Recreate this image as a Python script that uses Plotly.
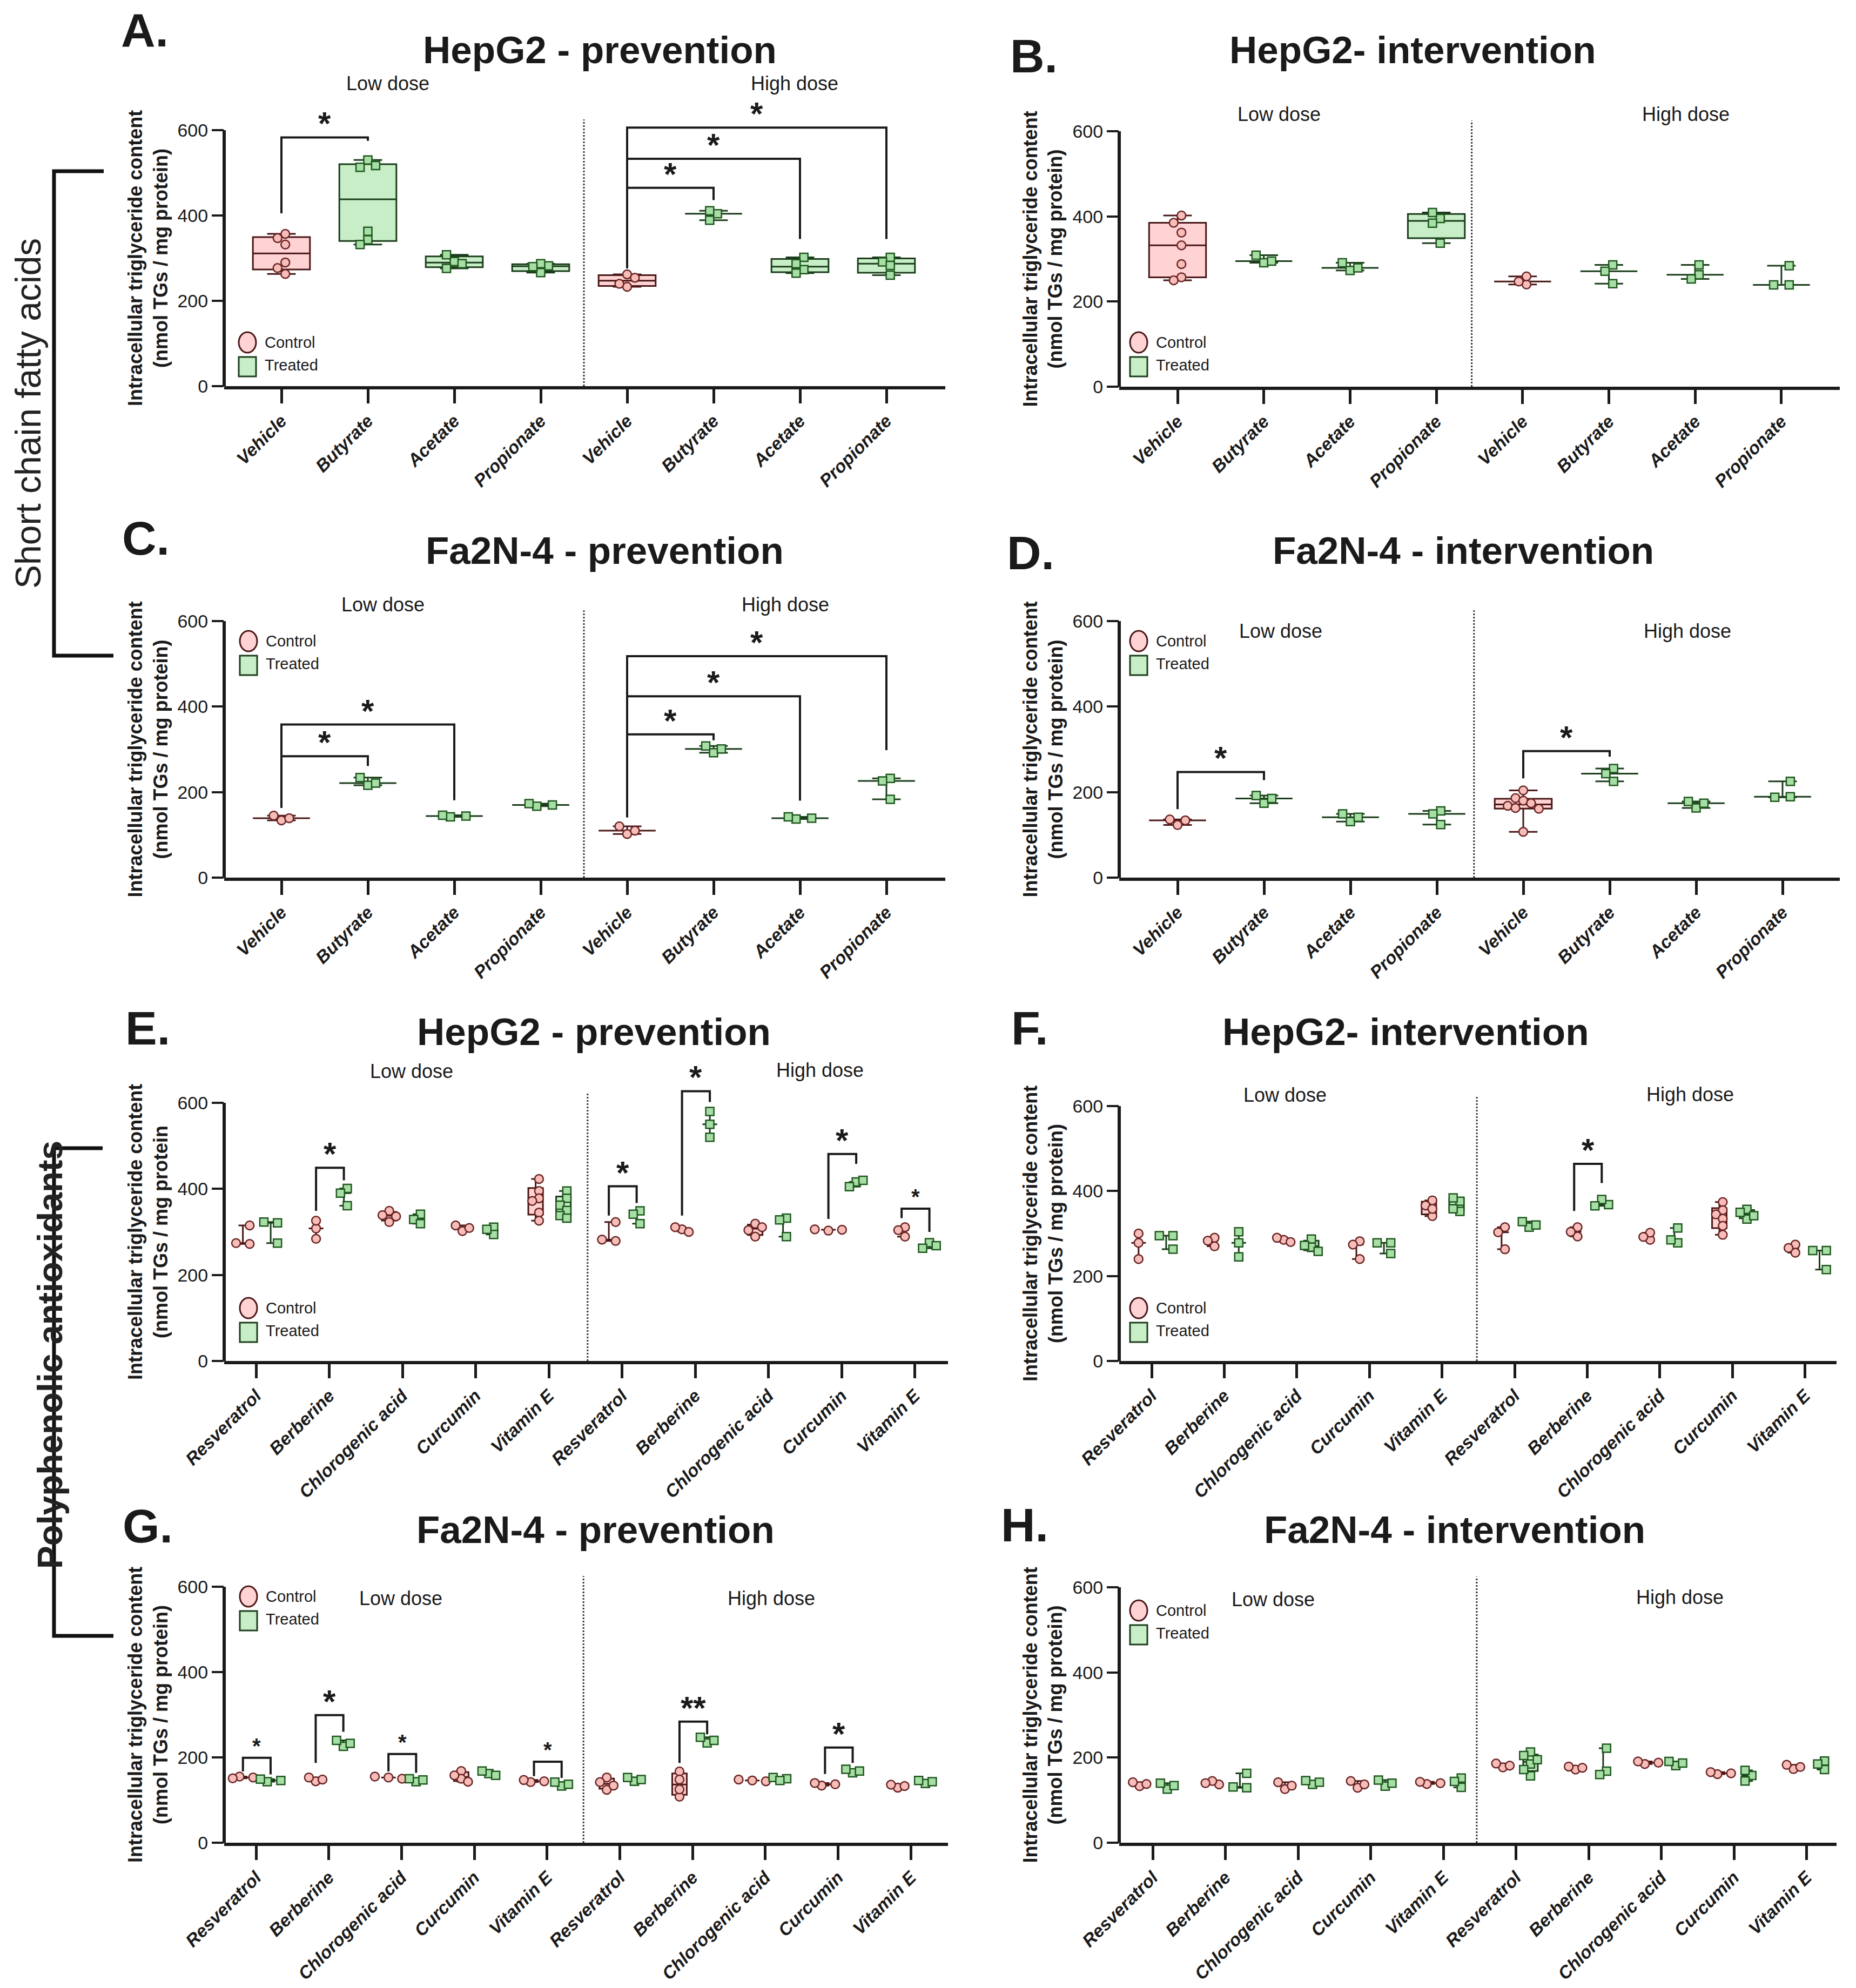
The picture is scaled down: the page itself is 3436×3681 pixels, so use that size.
import numpy as np
import plotly.graph_objects as go

W, H = 3436, 3681
FONT = "Liberation Sans, Arial, Helvetica, sans-serif"
INK = "#1a1a1a"

# ---------------- categories ----------------
SCFA = ["Vehicle", "Butyrate", "Acetate", "Propionate"]
POLY = ["Resveratrol", "Berberine", "Chlorogenic acid", "Curcumin", "Vitamin E"]

# ---------------- data (nmol TGs / mg protein) ----------------
# SCFA panels: one group per compound, "Vehicle" is the control group
A_low = [[357, 347, 332, 290, 277, 263], [530, 513, 517, 363, 343, 332], [292, 308, 276, 287], [282, 287, 266, 280]]
A_high = [[262, 233, 240, 254], [404, 389, 411], [302, 273, 265, 287], [302, 291, 283, 260]]
B_low = [[402, 385, 362, 332, 288, 257, 250], [291, 309, 295], [273, 291, 279], [395, 409, 384, 337]]
B_high = [[240, 259, 247], [286, 271, 242], [286, 263, 253], [284, 239, 239]]
C_low = [[134, 145, 139], [216, 234, 221], [142, 146, 144], [167, 173, 170]]
C_high = [[102, 120, 110], [292, 308, 301], [137, 142, 139], [232, 183, 226]]
D_low = [[123, 136, 134], [174, 192, 185], [131, 149, 141], [156, 124, 149]]
D_high = [[204, 186, 180, 174, 168, 163, 161, 107], [255, 225, 243], [163, 178, 174], [189, 225, 188]]

# Polyphenol panels: control / treated per compound
E_low_ctrl = [[272, 315, 274], [308, 326, 284], [349, 339, 336, 323], [302, 315, 309], [423, 395, 378, 372, 345, 326]]
E_low_trt = [[321, 323, 274], [401, 361, 390], [341, 329, 319], [311, 294, 306], [395, 378, 362, 350, 338, 332]]
E_high_ctrl = [[279, 323, 282], [306, 311, 300], [289, 319, 304, 311], [303, 306, 305], [311, 289, 304]]
E_high_trt = [[349, 319, 341], [580, 550, 520], [332, 289, 328], [416, 405, 420], [275, 262, 268]]

F_low_ctrl = [[300, 278, 240], [270, 290, 283], [285, 290, 280], [282, 240, 274], [378, 341, 366, 358]]
F_low_trt = [[295, 263, 295], [304, 278, 245], [287, 268, 272, 258], [278, 253, 278], [376, 352, 384, 358]]
F_high_ctrl = [[315, 263, 303], [293, 315, 304], [285, 302, 292], [374, 355, 345, 335, 318, 297], [274, 255, 266]]
F_high_trt = [[315, 328, 320], [368, 380, 365], [278, 313, 285], [357, 334, 350, 342], [260, 215, 260]]

G_low_ctrl = [[155, 151, 153], [144, 153, 148], [153, 155, 150], [168, 150, 158, 143], [142, 147, 144]]
G_low_trt = [[143, 149, 146], [226, 240, 233], [143, 150, 147], [162, 168, 158], [133, 142, 137]]
G_high_ctrl = [[153, 124, 142, 134], [167, 108, 148, 125], [146, 148, 144], [134, 140, 137], [129, 136, 133]]
G_high_trt = [[144, 153, 148], [234, 247, 240], [150, 153, 146], [164, 172, 168], [139, 146, 143]]

H_low_ctrl = [[133, 142, 138], [137, 145, 140], [126, 142, 134], [129, 145, 137], [138, 143, 140]]
H_low_trt = [[126, 140, 134], [129, 163, 131], [137, 146, 142], [133, 147, 140], [130, 152, 144]]
H_high_ctrl = [[177, 186, 181], [172, 179, 176], [185, 191, 188], [161, 166, 163], [173, 183, 178]]
H_high_trt = [[213, 157, 205, 185, 195, 172], [168, 222, 160], [181, 191, 187], [158, 145, 170], [172, 192, 185]]

# significance brackets
# SCFA: (group_from, group_to, top, left_leg_end, right_leg_end, label, small)
A_sig = [(0, 1, 583, 405, 575, "*", False), (4, 5, 465, 276, 436, "*", False),
         (4, 6, 533, 276, 345, "*", False), (4, 7, 606, 276, 345, "*", False)]
B_sig = []
C_sig = [(0, 1, 284, 163, 261, "*", False), (0, 2, 358, 163, 181, "*", False),
         (4, 5, 335, 141, 321, "*", False), (4, 6, 424, 141, 180, "*", False),
         (4, 7, 518, 141, 298, "*", False)]
D_sig = [(0, 1, 247, 160, 228, "*", False), (4, 5, 296, 232, 283, "*", False)]
# Polyphenols: (compound index 0-9, top, control_leg_end, treated_leg_end, label, small)
E_sig = [(1, 449, 349, 420, "*", False), (5, 406, 338, 367, "*", False), (6, 627, 338, 602, "*", False),
         (8, 481, 330, 458, "*", False), (9, 354, 332, 300, "*", True)]
F_sig = [(6, 464, 353, 419, "*", False)]
G_sig = [(0, 199, 167, 160, "*", True), (1, 299, 187, 260, "*", False), (2, 208, 167, 164, "*", True),
         (4, 190, 156, 152, "*", True), (6, 284, 187, 254, "**", False), (8, 223, 161, 187, "*", False)]
H_sig = []

TITLES = {"A": "HepG2 - prevention", "B": "HepG2- intervention", "C": "Fa2N-4 - prevention",
          "D": "Fa2N-4 - intervention", "E": "HepG2 - prevention", "F": "HepG2- intervention",
          "G": "Fa2N-4 - prevention", "H": "Fa2N-4 - intervention"}
YTITLE = "Intracellular triglyceride content<br>(nmol TGs / mg protein)"
YTITLE_E = "Intracellular triglyceride content<br>(nmol TGs / mg protein"

# ---------------- layout geometry (pixels) ----------------
# axis_left, axis_right, first_tick_x, tick_step, y_of_0, y_of_600, divider position (category units)
GEOM = {
    "A": (415, 1750, 521, 160.0, 715, 241, 3.5),
    "B": (2072, 3406, 2180, 159.7, 716, 243, 3.41),
    "C": (415, 1750, 521, 160.0, 1625, 1150, 3.5),
    "D": (2072, 3406, 2180, 160.0, 1625, 1150, 3.43),
    "E": (415, 1755, 474, 135.5, 2520, 2042, 4.53),
    "F": (2072, 3400, 2132, 134.4, 2520, 2048, 4.48),
    "G": (415, 1755, 474, 134.7, 3412, 2938, 4.5),
    "H": (2072, 3400, 2134, 134.5, 3412, 2939, 4.46),
}
TITLE_POS = {"A": (1110, 93), "B": (2615, 93), "C": (1119, 1020), "D": (2709, 1020),
             "E": (1099, 1910), "F": (2602, 1910), "G": (1102, 2832), "H": (2693, 2832)}
LETTER_POS = {"A": (268, 55), "B": (1914, 103), "C": (270, 996), "D": (1908, 1023),
              "E": (273, 1903), "F": (1906, 1903), "G": (273, 2825), "H": (1897, 2823)}
DOSE_POS = {"A": ((718, 155), (1471, 155)), "B": ((2368, 211), (3121, 211)),
            "C": ((709, 1119), (1454, 1119)), "D": ((2371, 1168), (3124, 1168)),
            "E": ((762, 1983), (1518, 1981)), "F": ((2379, 2027), (3129, 2026)),
            "G": ((742, 2959), (1428, 2959)), "H": ((2357, 2961), (3110, 2957))}
LEG_POS = {"A": (458, 634), "B": (2108, 634), "C": (460, 1187), "D": (2108, 1187),
           "E": (460, 2422), "F": (2108, 2422), "G": (460, 2956), "H": (2108, 2982)}

CTRL_FILL, CTRL_LINE, CTRL_PT = "#FFD3D3", "#4a1616", "#F7BDB9"
TRT_FILL, TRT_LINE, TRT_PT = "#C8EEC8", "#1b3d1b", "#A6DEA6"
CTRL_PT_LINE, TRT_PT_LINE = "#6a2323", "#1e571e"


def quart(v):
    v = np.asarray(v, float)
    med = float(np.median(v))
    if len(v) >= 4:
        q1, q3 = np.quantile(v, [0.25, 0.75], method="weibull")
    else:  # groups of three: median with range
        q1 = q3 = med
    return float(q1), med, float(q3), float(v.min()), float(v.max())


def swarm(values, ppv, ppx, d):
    placed, out = [], []
    steps = [0] + [s * k for k in range(1, 12) for s in (-1, 1)]
    for v in values:
        y = v * ppv
        x = 0.0
        for k in steps:
            x = k * d * 0.9
            if all((x - a) ** 2 + (y - b) ** 2 >= (d * 0.92) ** 2 for a, b in placed):
                break
        placed.append((x, y))
        out.append(x)
    xs = np.array(out)
    xs -= (xs.max() + xs.min()) / 2
    return xs / ppx


def paper(x, y):
    return x / W, 1 - y / H


PANELS = [
    ("A", "scfa", (A_low, A_high), A_sig),
    ("B", "scfa", (B_low, B_high), B_sig),
    ("C", "scfa", (C_low, C_high), C_sig),
    ("D", "scfa", (D_low, D_high), D_sig),
    ("E", "poly", (E_low_ctrl, E_low_trt, E_high_ctrl, E_high_trt), E_sig),
    ("F", "poly", (F_low_ctrl, F_low_trt, F_high_ctrl, F_high_trt), F_sig),
    ("G", "poly", (G_low_ctrl, G_low_trt, G_high_ctrl, G_high_trt), G_sig),
    ("H", "poly", (H_low_ctrl, H_low_trt, H_high_ctrl, H_high_trt), H_sig),
]

fig = go.Figure()
layout = dict(width=W, height=H, margin=dict(l=0, r=0, t=0, b=0, pad=0, autoexpand=False),
              paper_bgcolor="white", plot_bgcolor="rgba(0,0,0,0)", showlegend=False,
              hovermode=False, font=dict(family=FONT, color=INK))
shapes, annots = [], []

for i, (key, kind, data, sig) in enumerate(PANELS, start=1):
    sid = "" if i == 1 else str(i)
    xr, yr = "x" + sid, "y" + sid
    xl, xrt, t0, step, y0, y600, div = GEOM[key]
    ppv = (y0 - y600) / 600.0
    ytop = y0 - 700 * ppv

    # ---- group assembly ----
    ctrl_groups, trt_groups = [], []  # (position, values)
    if kind == "scfa":
        low, high = data
        names = SCFA + SCFA
        for j, vals in enumerate(list(low) + list(high)):
            (ctrl_groups if names[j] == "Vehicle" else trt_groups).append((float(j), vals))
        bw, ww, d = 0.66, 0.5, 16.0
    else:
        lc, lt, hc, ht = data
        names = POLY + POLY
        for j in range(10):
            ctrl_groups.append((j - 0.18, (lc + hc)[j]))
            trt_groups.append((j + 0.20, (lt + ht)[j]))
        bw, ww, d = 0.2, 0.6, 14.0

    for groups, fill, lcol in ((ctrl_groups, CTRL_FILL, CTRL_LINE), (trt_groups, TRT_FILL, TRT_LINE)):
        stats = [quart(v) for _, v in groups]
        fig.add_trace(go.Box(
            x=[p for p, _ in groups], q1=[s[0] for s in stats], median=[s[1] for s in stats],
            q3=[s[2] for s in stats], lowerfence=[s[3] for s in stats], upperfence=[s[4] for s in stats],
            width=bw, whiskerwidth=ww, fillcolor=fill, line=dict(color=lcol, width=3),
            boxpoints=False, xaxis=xr, yaxis=yr, hoverinfo="skip"))
    for groups, ptc, ptl, sym, msz in (
            (ctrl_groups, CTRL_PT, CTRL_PT_LINE, "circle", 16),
            (trt_groups, TRT_PT, TRT_PT_LINE, "square", 15)):
        xs, ys = [], []
        for p, v in groups:
            offs = swarm(v, ppv, step, d)
            xs += list(p + offs)
            ys += list(v)
        fig.add_trace(go.Scatter(
            x=xs, y=ys, mode="markers", cliponaxis=False, xaxis=xr, yaxis=yr, hoverinfo="skip",
            marker=dict(symbol=sym, size=msz, color=ptc, line=dict(color=ptl, width=2.5))))

    # ---- axes ----
    layout["xaxis" + sid] = dict(
        domain=[xl / W, xrt / W], range=[(xl - t0) / step, (xrt - t0) / step], anchor=yr,
        tickmode="array", tickvals=list(range(len(names))), ticktext=names, tickangle=-45,
        ticks="outside", ticklen=26, tickwidth=5, tickcolor=INK, showline=True, linewidth=6,
        linecolor=INK, showgrid=False, zeroline=False, fixedrange=True, automargin=False,
        tickfont=dict(family=FONT, size=33, style="italic", weight="bold", color=INK))
    layout["yaxis" + sid] = dict(
        domain=[1 - y0 / H, 1 - ytop / H], range=[0, 700], anchor=xr, tickmode="array",
        tickvals=[0, 200, 400, 600], ticks="outside", ticklen=22, tickwidth=4, tickcolor=INK,
        showline=False, showgrid=False, zeroline=False, fixedrange=True, automargin=False,
        tickfont=dict(family=FONT, size=34, color=INK))

    # y axis line up to 600
    shapes.append(dict(type="line", xref=xr + " domain", x0=0, x1=0, yref=yr, y0=0, y1=600,
                       line=dict(color=INK, width=6)))
    # dose divider
    shapes.append(dict(type="line", xref=xr, x0=div, x1=div, yref=yr, y0=0, y1=625,
                       line=dict(color="#333333", width=3, dash="dot")))

    # y title
    annots.append(dict(xref=xr + " domain", x=0, xshift=-141, yref=yr, y=300,
                       text=YTITLE_E if key == "E" else YTITLE, textangle=-90, showarrow=False,
                       xanchor="center", yanchor="middle", align="center",
                       font=dict(size=36, weight="bold", color=INK)))

    # significance brackets
    for s in sig:
        if kind == "scfa":
            g1, g2, yt, yl, yrr, lab, small = s
            x1, x2 = float(g1), float(g2)
        else:
            k, yt, yl, yrr, lab, small = s
            x1, x2 = k - 0.18, k + 0.20
        shapes.append(dict(type="path", xref=xr, yref=yr,
                           path=f"M{x1},{yl} L{x1},{yt} L{x2},{yt} L{x2},{yrr}",
                           line=dict(color=INK, width=4)))
        annots.append(dict(xref=xr, yref=yr, x=(x1 + x2) / 2, y=yt, text=lab, showarrow=False,
                           xanchor="center", yanchor="bottom", yshift=-2 if small else -10,
                           font=dict(size=40 if small else 60, weight="bold", color=INK)))

    # titles, panel letters, dose labels
    tx, ty = paper(*TITLE_POS[key])
    annots.append(dict(xref="paper", yref="paper", x=tx, y=ty, text=TITLES[key], showarrow=False,
                       xanchor="center", yanchor="middle", font=dict(size=71, weight="bold", color=INK)))
    lx, ly = paper(*LETTER_POS[key])
    annots.append(dict(xref="paper", yref="paper", x=lx, y=ly, text=key + ".", showarrow=False,
                       xanchor="center", yanchor="middle", font=dict(size=88, weight="bold", color=INK)))
    for (dx, dy), txt in zip(DOSE_POS[key], ("Low dose", "High dose")):
        px_, py_ = paper(dx, dy)
        annots.append(dict(xref="paper", yref="paper", x=px_, y=py_, text=txt, showarrow=False,
                           xanchor="center", yanchor="middle", font=dict(size=36, color=INK)))

    # legend (Control / Treated)
    cx, cy = LEG_POS[key]
    x0p, y0p = paper(cx - 16, cy + 19)
    x1p, y1p = paper(cx + 16, cy - 19)
    shapes.append(dict(type="circle", xref="paper", yref="paper", x0=x0p, x1=x1p, y0=y0p, y1=y1p,
                       fillcolor=CTRL_FILL, line=dict(color=CTRL_LINE, width=3)))
    x0p, y0p = paper(cx - 16, cy + 45 + 18)
    x1p, y1p = paper(cx + 16, cy + 45 - 18)
    shapes.append(dict(type="rect", xref="paper", yref="paper", x0=x0p, x1=x1p, y0=y0p, y1=y1p,
                       fillcolor=TRT_FILL, line=dict(color=TRT_LINE, width=3)))
    for dy, txt in ((0, "Control"), (42, "Treated")):
        px_, py_ = paper(cx + 30, cy + dy)
        annots.append(dict(xref="paper", yref="paper", x=px_, y=py_, text=txt, showarrow=False,
                           xanchor="left", yanchor="middle", font=dict(size=29, color=INK)))


# ---- side group labels with brackets ----
def ppath(pts):
    s = ""
    for n, (x, y) in enumerate(pts):
        px_, py_ = paper(x, y)
        s += ("M" if n == 0 else " L") + f"{px_:.5f},{py_:.5f}"
    return s


shapes.append(dict(type="path", xref="paper", yref="paper",
                   path=ppath([(192, 317), (100, 317), (100, 1214), (210, 1214)]),
                   line=dict(color="#111111", width=7)))
shapes.append(dict(type="path", xref="paper", yref="paper",
                   path=ppath([(190, 2126), (100, 2126), (100, 3029), (210, 3029)]),
                   line=dict(color="#111111", width=7)))
sx, sy = paper(52, 766)
annots.append(dict(xref="paper", yref="paper", x=sx, y=sy, text="Short chain fatty acids",
                   textangle=-90, showarrow=False, xanchor="center", yanchor="middle",
                   font=dict(size=66, color="#222222")))
sx, sy = paper(93, 2509)
annots.append(dict(xref="paper", yref="paper", x=sx, y=sy, text="Polyphenolic antioxidants",
                   textangle=-90, showarrow=False, xanchor="center", yanchor="middle",
                   font=dict(size=64, weight="bold", color="#222222")))

layout["shapes"] = shapes
layout["annotations"] = annots
fig.update_layout(**layout)
fig.write_html("out.html", config={"displayModeBar": False},
               post_script="document.body.style.margin='0';document.body.style.padding='0';")
